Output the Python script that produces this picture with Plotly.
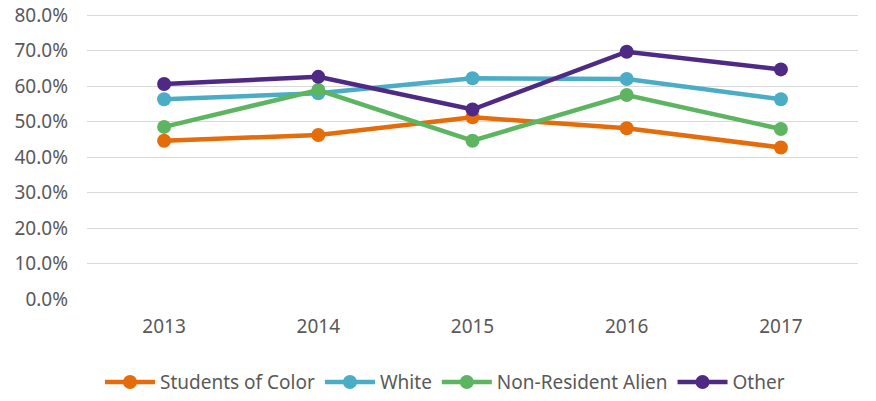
import plotly.graph_objects as go

years = ["2013", "2014", "2015", "2016", "2017"]

students_of_color = [0.446, 0.462, 0.512, 0.481, 0.427]
white = [0.563, 0.580, 0.622, 0.620, 0.563]
non_resident_alien = [0.485, 0.589, 0.446, 0.575, 0.479]
other = [0.606, 0.626, 0.534, 0.697, 0.647]

series = [
    ("Students of Color", students_of_color, "#E46C0A"),
    ("White", white, "#4BACC6"),
    ("Non-Resident Alien", non_resident_alien, "#5DB562"),
    ("Other", other, "#4E2A84"),
]

fig = go.Figure()
for name, vals, col in series:
    fig.add_trace(go.Scatter(
        x=years, y=vals, name=name,
        mode="lines+markers",
        line=dict(color=col, width=4.5),
        marker=dict(color=col, size=14),
    ))

fig.update_layout(
    width=876, height=401,
    margin=dict(l=87, r=18, t=13, b=102),
    paper_bgcolor="white",
    plot_bgcolor="white",
    font=dict(family="Noto Sans", size=19, color="#595959"),
    legend=dict(orientation="h", xref="container", x=0.508, xanchor="center",
                yref="container", y=0.047, yanchor="middle",
                font=dict(size=19), itemwidth=50),
    showlegend=True,
)
fig.update_xaxes(type="category", showgrid=False, showline=False,
                 ticks="", range=[-0.5, 4.5], automargin=False,
                 ticklabelstandoff=14)
# a little headroom so the 80% gridline is not clipped at the edge
fig.update_yaxes(range=[0, 0.806], tickvals=[i / 10 for i in range(9)],
                 tickformat=".1%", ticklabeloverflow="allow",
                 showgrid=True, gridcolor="#D9D9D9", gridwidth=1.3,
                 zeroline=False, showline=False, ticks="",
                 automargin=False, ticklabelstandoff=18)

# drop the default 8px body margin so the figure fills the window
fig.write_html("out.html", config={"displayModeBar": False},
               post_script="document.body.style.margin='0';")
